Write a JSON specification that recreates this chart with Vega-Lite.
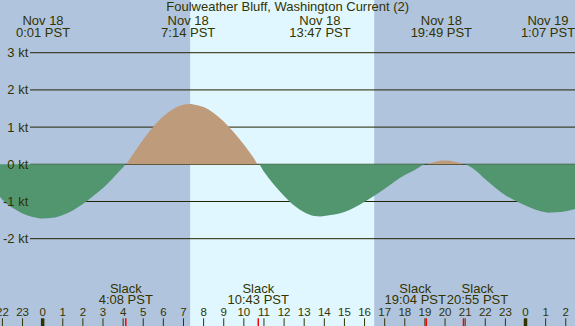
{
  "$schema": "https://vega.github.io/schema/vega-lite/v6.json",
  "width": 575,
  "height": 326,
  "autosize": {"type": "none"},
  "padding": 0,
  "background": "#b0c4de",
  "config": {
    "view": {"stroke": null},
    "text": {"font": "Liberation Sans", "fontSize": 13, "color": "#333300", "baseline": "alphabetic", "align": "center"}
  },
  "datasets": {
    "curve": [
      {"t": -2.12, "v": -0.87}, {"t": -2.0, "v": -0.95}, {"t": -1.5, "v": -1.17}, {"t": -1.0, "v": -1.32},
      {"t": -0.5, "v": -1.42}, {"t": 0.0, "v": -1.46}, {"t": 0.5, "v": -1.44}, {"t": 1.0, "v": -1.36},
      {"t": 1.5, "v": -1.24}, {"t": 2.0, "v": -1.07}, {"t": 2.5, "v": -0.86}, {"t": 3.0, "v": -0.64},
      {"t": 3.5, "v": -0.37}, {"t": 4.0, "v": -0.08}, {"t": 4.15, "v": 0}, {"t": 4.5, "v": 0.28},
      {"t": 5.0, "v": 0.67}, {"t": 5.5, "v": 1.01}, {"t": 6.0, "v": 1.29}, {"t": 6.5, "v": 1.49},
      {"t": 7.0, "v": 1.6}, {"t": 7.3, "v": 1.62}, {"t": 7.5, "v": 1.61}, {"t": 8.0, "v": 1.54},
      {"t": 8.5, "v": 1.38}, {"t": 9.0, "v": 1.15}, {"t": 9.5, "v": 0.86}, {"t": 10.0, "v": 0.53},
      {"t": 10.5, "v": 0.16}, {"t": 10.72, "v": 0}, {"t": 11.0, "v": -0.2}, {"t": 11.5, "v": -0.55},
      {"t": 12.0, "v": -0.85}, {"t": 12.5, "v": -1.11}, {"t": 13.0, "v": -1.29}, {"t": 13.5, "v": -1.39},
      {"t": 13.8, "v": -1.4}, {"t": 14.0, "v": -1.39}, {"t": 14.5, "v": -1.35}, {"t": 15.0, "v": -1.28},
      {"t": 15.5, "v": -1.16}, {"t": 16.0, "v": -1.01}, {"t": 16.5, "v": -0.84}, {"t": 17.0, "v": -0.66},
      {"t": 17.5, "v": -0.46}, {"t": 18.0, "v": -0.29}, {"t": 18.5, "v": -0.15}, {"t": 19.07, "v": 0},
      {"t": 19.5, "v": 0.067}, {"t": 20.0, "v": 0.1}, {"t": 20.5, "v": 0.066}, {"t": 20.92, "v": 0},
      {"t": 21.5, "v": -0.16}, {"t": 22.0, "v": -0.4}, {"t": 22.5, "v": -0.63}, {"t": 23.0, "v": -0.83},
      {"t": 23.5, "v": -0.98}, {"t": 24.0, "v": -1.11}, {"t": 24.5, "v": -1.22}, {"t": 25.0, "v": -1.29},
      {"t": 25.12, "v": -1.3}, {"t": 25.5, "v": -1.29}, {"t": 26.0, "v": -1.26}, {"t": 26.46, "v": -1.2}
    ],
    "grid": [
      {"kt": 3, "label": "3 kt"}, {"kt": 2, "label": "2 kt"}, {"kt": 1, "label": "1 kt"},
      {"kt": 0, "label": "0 kt"}, {"kt": -1, "label": "-1 kt"}, {"kt": -2, "label": "-2 kt"}
    ],
    "events": [
      {"t": 0.017, "d": "Nov 18", "tm": "0:01 PST"},
      {"t": 7.233, "d": "Nov 18", "tm": "7:14 PST"},
      {"t": 13.783, "d": "Nov 18", "tm": "13:47 PST"},
      {"t": 19.817, "d": "Nov 18", "tm": "19:49 PST"},
      {"t": 25.117, "d": "Nov 19", "tm": "1:07 PST"}
    ],
    "slack": [
      {"t": 4.133, "d": "Slack", "tm": "4:08 PST"},
      {"t": 10.717, "d": "Slack", "tm": "10:43 PST"},
      {"t": 19.067, "d": "Slack", "tm": "19:04 PST"},
      {"t": 20.917, "d": "Slack", "tm": "20:55 PST"}
    ],
    "hours": [
      {"h": -2, "lab": "22"}, {"h": -1, "lab": "23"}, {"h": 0, "lab": "0"}, {"h": 1, "lab": "1"},
      {"h": 2, "lab": "2"}, {"h": 3, "lab": "3"}, {"h": 4, "lab": "4"}, {"h": 5, "lab": "5"},
      {"h": 6, "lab": "6"}, {"h": 7, "lab": "7"}, {"h": 8, "lab": "8"}, {"h": 9, "lab": "9"},
      {"h": 10, "lab": "10"}, {"h": 11, "lab": "11"}, {"h": 12, "lab": "12"}, {"h": 13, "lab": "13"},
      {"h": 14, "lab": "14"}, {"h": 15, "lab": "15"}, {"h": 16, "lab": "16"}, {"h": 17, "lab": "17"},
      {"h": 18, "lab": "18"}, {"h": 19, "lab": "19"}, {"h": 20, "lab": "20"}, {"h": 21, "lab": "21"},
      {"h": 22, "lab": "22"}, {"h": 23, "lab": "23"}, {"h": 24, "lab": "0"}, {"h": 25, "lab": "1"},
      {"h": 26, "lab": "2"}
    ],
    "daylight": [{"s": 7.33, "e": 16.48}],
    "title": [{"txt": "Foulweather Bluff, Washington Current (2)"}]
  },
  "layer": [
    {
      "data": {"name": "daylight"},
      "mark": {"type": "rect", "color": "#e0f7ff"},
      "encoding": {
        "x": {"field": "s", "type": "quantitative", "scale": {"domain": [-2.12, 26.46], "nice": false, "zero": false}, "axis": null},
        "x2": {"field": "e"}
      }
    },
    {
      "data": {"name": "grid"},
      "mark": {"type": "rule", "color": "#222200", "strokeWidth": 1},
      "encoding": {
        "x": {"datum": -0.63, "type": "quantitative", "scale": {"domain": [-2.12, 26.46], "nice": false, "zero": false}, "axis": null},
        "x2": {"datum": 26.46},
        "y": {"field": "kt", "type": "quantitative", "scale": {"domain": [-4.347, 4.417], "nice": false, "zero": false}, "axis": null}
      }
    },
    {
      "data": {"name": "curve"},
      "transform": [{"filter": "datum.v <= 0"}],
      "mark": {"type": "area", "color": "#529670", "interpolate": "monotone", "opacity": 1},
      "encoding": {
        "x": {"field": "t", "type": "quantitative", "scale": {"domain": [-2.12, 26.46], "nice": false, "zero": false}, "axis": null},
        "y": {"field": "v", "type": "quantitative", "scale": {"domain": [-4.347, 4.417], "nice": false, "zero": false}, "axis": null},
        "y2": {"datum": 0}
      }
    },
    {
      "data": {"name": "curve"},
      "transform": [{"filter": "datum.v >= 0"}],
      "mark": {"type": "area", "color": "#be9b7a", "interpolate": "monotone", "opacity": 1},
      "encoding": {
        "x": {"field": "t", "type": "quantitative", "scale": {"domain": [-2.12, 26.46], "nice": false, "zero": false}, "axis": null},
        "y": {"field": "v", "type": "quantitative", "scale": {"domain": [-4.347, 4.417], "nice": false, "zero": false}, "axis": null},
        "y2": {"datum": 0}
      }
    },
    {
      "data": {"name": "grid"},
      "mark": {"type": "text", "align": "right", "baseline": "alphabetic", "dy": 4.5},
      "encoding": {
        "x": {"datum": -0.715, "type": "quantitative"},
        "y": {"field": "kt", "type": "quantitative"},
        "text": {"field": "label"}
      }
    },
    {
      "data": {"name": "title"},
      "mark": {"type": "text"},
      "encoding": {
        "x": {"datum": 12.18, "type": "quantitative"},
        "y": {"datum": 4.121, "type": "quantitative"},
        "text": {"field": "txt"}
      }
    },
    {
      "data": {"name": "events"},
      "mark": {"type": "text"},
      "encoding": {
        "x": {"field": "t", "type": "quantitative"},
        "y": {"datum": 3.745, "type": "quantitative"},
        "text": {"field": "d"}
      }
    },
    {
      "data": {"name": "events"},
      "mark": {"type": "text"},
      "encoding": {
        "x": {"field": "t", "type": "quantitative"},
        "y": {"datum": 3.43, "type": "quantitative"},
        "text": {"field": "tm"}
      }
    },
    {
      "data": {"name": "slack"},
      "transform": [{"filter": "datum.t < 15"}],
      "layer": [
        {
          "mark": {"type": "text"},
          "encoding": {
            "x": {"field": "t", "type": "quantitative"},
            "y": {"datum": -3.452, "type": "quantitative"},
            "text": {"field": "d"}
          }
        },
        {
          "mark": {"type": "text"},
          "encoding": {
            "x": {"field": "t", "type": "quantitative"},
            "y": {"datum": -3.763, "type": "quantitative"},
            "text": {"field": "tm"}
          }
        }
      ]
    },
    {
      "data": {"name": "slack"},
      "transform": [{"filter": "datum.t > 15 && datum.t < 20"}],
      "layer": [
        {
          "mark": {"type": "text", "dx": -11},
          "encoding": {
            "x": {"field": "t", "type": "quantitative"},
            "y": {"datum": -3.452, "type": "quantitative"},
            "text": {"field": "d"}
          }
        },
        {
          "mark": {"type": "text", "dx": -11},
          "encoding": {
            "x": {"field": "t", "type": "quantitative"},
            "y": {"datum": -3.763, "type": "quantitative"},
            "text": {"field": "tm"}
          }
        }
      ]
    },
    {
      "data": {"name": "slack"},
      "transform": [{"filter": "datum.t > 20"}],
      "layer": [
        {
          "mark": {"type": "text", "dx": 14},
          "encoding": {
            "x": {"field": "t", "type": "quantitative"},
            "y": {"datum": -3.452, "type": "quantitative"},
            "text": {"field": "d"}
          }
        },
        {
          "mark": {"type": "text", "dx": 14},
          "encoding": {
            "x": {"field": "t", "type": "quantitative"},
            "y": {"datum": -3.763, "type": "quantitative"},
            "text": {"field": "tm"}
          }
        }
      ]
    },
    {
      "data": {"name": "hours"},
      "mark": {"type": "text", "fontSize": 11.5},
      "encoding": {
        "x": {"field": "h", "type": "quantitative"},
        "y": {"datum": -4.078, "type": "quantitative"},
        "text": {"field": "lab"}
      }
    },
    {
      "data": {"name": "hours"},
      "transform": [{"filter": "datum.h % 24 != 0"}],
      "mark": {"type": "rule", "color": "#333300", "strokeWidth": 1},
      "encoding": {
        "x": {"field": "h", "type": "quantitative"},
        "y": {"datum": -4.14, "type": "quantitative"},
        "y2": {"datum": -4.347}
      }
    },
    {
      "data": {"name": "hours"},
      "transform": [{"filter": "datum.h % 24 == 0"}],
      "mark": {"type": "rule", "color": "#333300", "strokeWidth": 3.5},
      "encoding": {
        "x": {"field": "h", "type": "quantitative"},
        "y": {"datum": -4.14, "type": "quantitative"},
        "y2": {"datum": -4.347}
      }
    },
    {
      "data": {"name": "slack"},
      "mark": {"type": "rule", "color": "#ff0000", "strokeWidth": 1.5},
      "encoding": {
        "x": {"field": "t", "type": "quantitative"},
        "y": {"datum": -4.14, "type": "quantitative"},
        "y2": {"datum": -4.347}
      }
    }
  ]
}
